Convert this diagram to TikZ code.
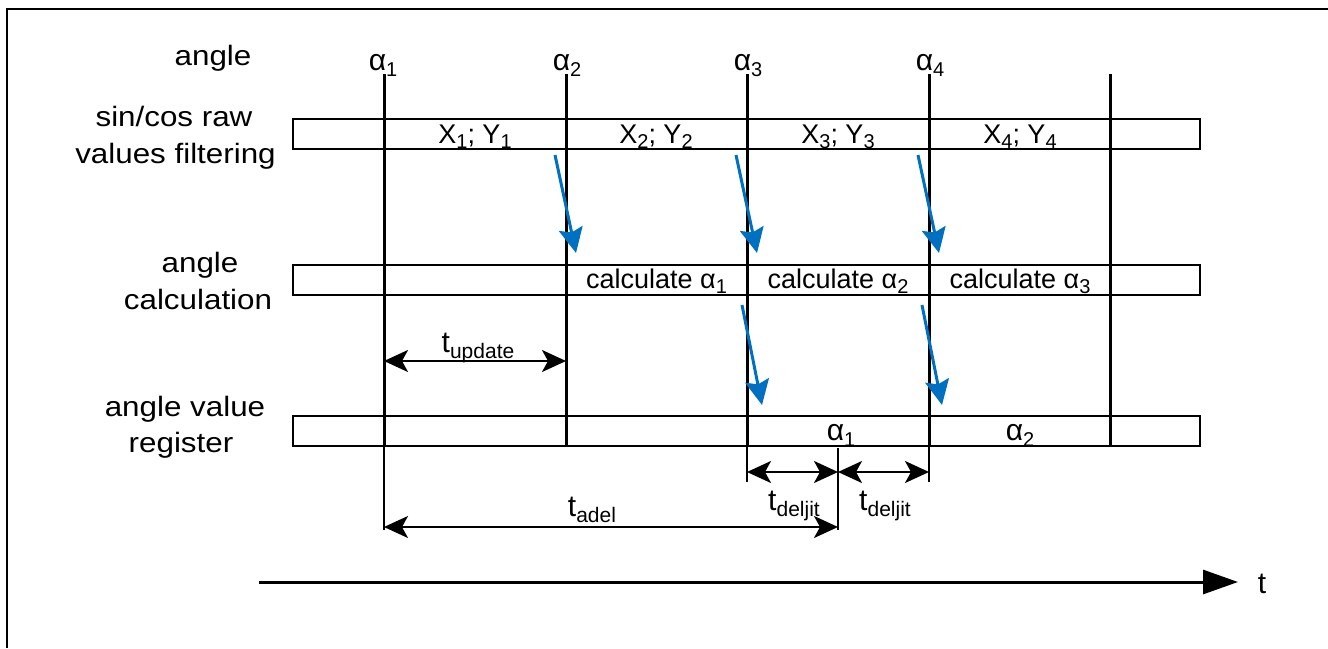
\documentclass[tikz,border=0pt]{standalone}
\usepackage{fontspec}
\setmainfont{Liberation Sans}
\newfontfamily\widefont{Liberation Sans}[FakeStretch=1.12]
\usetikzlibrary{arrows.meta}
\definecolor{flowblue}{RGB}{0,112,192}
\newcommand\lowidx[1]{\raisebox{-0.22em}{\fontsize{10}{10}\selectfont #1}}
\newcommand\lowidxb[1]{\raisebox{-0.2em}{\fontsize{10.5}{10.5}\selectfont #1}}
\begin{document}
\begin{tikzpicture}[x=0.5pt,y=-0.5pt,
  vline/.style={line width=1.5pt},
  thinline/.style={line width=1pt},
  framel/.style={line width=0.9pt},
  rowbox/.style={draw, line width=1pt, minimum width=453.5pt, minimum height=15pt, inner sep=0pt},
  flow/.style={draw=flowblue, line width=1.5pt, -{Stealth[length=12.5pt,width=12pt,inset=2pt]}},
  dimarr/.style={line width=1pt, {Stealth[length=12pt,width=11pt,inset=3pt]}-{Stealth[length=12pt,width=11pt,inset=3pt]}},
  axis/.style={line width=1.5pt, -{Triangle[length=17.5pt,width=12pt]}},
  lbl/.style={anchor=base, inner sep=0pt, font=\fontsize{13.5}{16}\selectfont},
  biglbl/.style={anchor=base, inner sep=0pt, font=\fontsize{15}{18}\selectfont},
  side/.style={anchor=base, inner sep=0pt, font=\widefont\fontsize{14}{17}\selectfont}]
\useasboundingbox (0,0) rectangle (1328,648);
% frame
\coordinate (fa) at (7,648);
\coordinate (fb) at (7,9);
\coordinate (fc) at (1328,9);
\draw[framel] (fa) -- (fb) -- (fc);
% row boxes
\node[rowbox] (r1) at (746.5,134) {};
\node[rowbox] (r2) at (746.5,280) {};
\node[rowbox] (r3) at (746.5,431) {};
% vertical lines
\coordinate (v1t) at (384,74); \coordinate (v1m) at (384,446); \coordinate (v1b) at (384,530);
\coordinate (v2t) at (566,74); \coordinate (v2b) at (566,446);
\coordinate (v3t) at (747,74); \coordinate (v3m) at (747,446); \coordinate (v3b) at (747,482);
\coordinate (v4t) at (929,74); \coordinate (v4m) at (929,446); \coordinate (v4b) at (929,482);
\coordinate (v5t) at (1110,74); \coordinate (v5b) at (1110,446);
\coordinate (tkt) at (838,448); \coordinate (tkb) at (838,530);
\draw[vline] (v1t) -- (v1m);
\draw[thinline] (v1m) -- (v1b);
\draw[vline] (v2t) -- (v2b);
\draw[vline] (v3t) -- (v3m);
\draw[thinline] (v3m) -- (v3b);
\draw[vline] (v4t) -- (v4m);
\draw[thinline] (v4m) -- (v4b);
\draw[vline] (v5t) -- (v5b);
\draw[thinline] (tkt) -- (tkb);
% left labels
\node[side] (la) at (213,65) {angle};
\node[side] (lb1) at (174,126) {sin/cos raw};
\node[side] (lb2) at (175.5,163) {values filtering};
\node[side] (lc1) at (200,272) {angle};
\node[side] (lc2) at (198,309) {calculation};
\node[side] (ld1) at (185,416) {angle value};
\node[side] (ld2) at (181,452) {register};
% angle labels
\node[biglbl] (a1) at (383,70) {α\lowidx{1}};
\node[biglbl] (a2) at (567,70) {α\lowidx{2}};
\node[biglbl] (a3) at (748,70) {α\lowidx{3}};
\node[biglbl] (a4) at (930,70) {α\lowidx{4}};
% row 1 texts
\node[lbl] (x1) at (475,143) {X\lowidx{1}; Y\lowidx{1}};
\node[lbl] (x2) at (656,143) {X\lowidx{2}; Y\lowidx{2}};
\node[lbl] (x3) at (838,143) {X\lowidx{3}; Y\lowidx{3}};
\node[lbl] (x4) at (1020,143) {X\lowidx{4}; Y\lowidx{4}};
% row 2 texts
\node[lbl] (c1) at (656.5,288) {calculate α\lowidx{1}};
\node[lbl] (c2) at (838,288) {calculate α\lowidx{2}};
\node[lbl] (c3) at (1020,288) {calculate α\lowidx{3}};
% row 3 texts
\node[biglbl] (g1) at (841,440) {α\lowidx{1}};
\node[biglbl] (g2) at (1020,440) {α\lowidx{2}};
% blue flow arrows
\coordinate (fa1) at (555,155); \coordinate (fb1) at (576,253);
\coordinate (fa2) at (736,155); \coordinate (fb2) at (757,253);
\coordinate (fa3) at (918,155); \coordinate (fb3) at (939,253);
\coordinate (fc1) at (742,305); \coordinate (fd1) at (762,405);
\coordinate (fc2) at (922,305); \coordinate (fd2) at (942,405);
\draw[flow] (fa1) -- (fb1);
\draw[flow] (fa2) -- (fb2);
\draw[flow] (fa3) -- (fb3);
\draw[flow] (fc1) -- (fd1);
\draw[flow] (fc2) -- (fd2);
% dimension arrows
\coordinate (u1) at (384,361); \coordinate (u2) at (566,361);
\draw[dimarr] (u1) -- (u2);
\node[biglbl] (tu) at (478,352) {t\lowidxb{update}};
\coordinate (d1) at (747,472); \coordinate (d2) at (838,472); \coordinate (d3) at (929,472);
\draw[dimarr] (d1) -- (d2);
\draw[dimarr] (d2) -- (d3);
\node[biglbl] (tj1) at (794,510) {t\lowidxb{deljit}};
\node[biglbl] (tj2) at (885,510) {t\lowidxb{deljit}};
\coordinate (e1) at (384,527); \coordinate (e2) at (838,527);
\draw[dimarr] (e1) -- (e2);
\node[biglbl] (ta) at (592,516) {t\lowidxb{adel}};
% time axis
\coordinate (t0) at (259,582); \coordinate (t1) at (1238,582);
\draw[axis] (t0) -- (t1);
\node[biglbl] (tt) at (1262,593) {t};
\end{tikzpicture}
\end{document}
